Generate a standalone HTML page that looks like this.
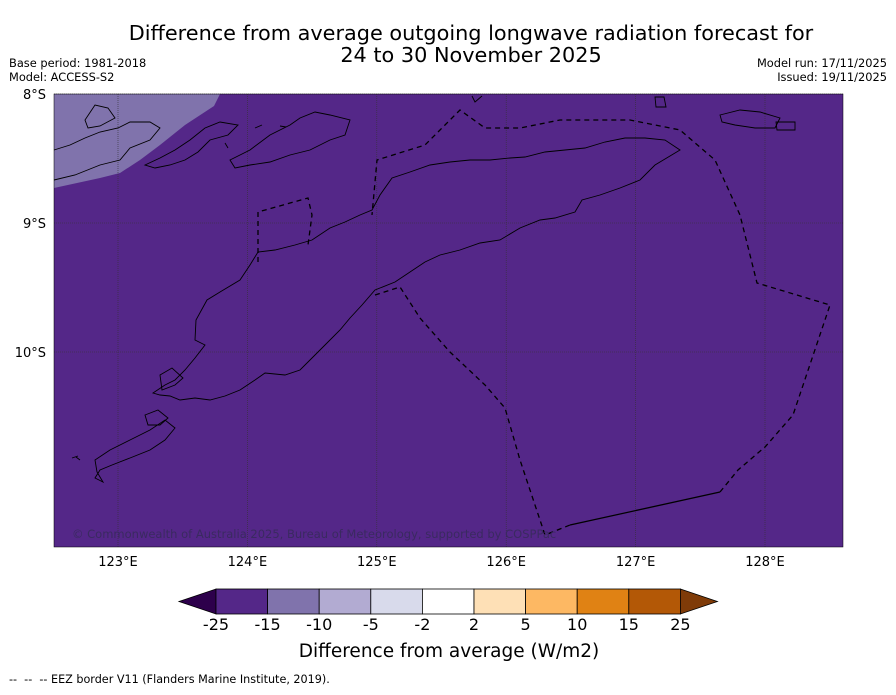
<!DOCTYPE html>
<html><head><meta charset="utf-8"><style>
body{margin:0;background:#fff;font-family:"Liberation Sans","DejaVu Sans",sans-serif;}
svg text{font-family:"DejaVu Sans","Liberation Sans",sans-serif;}
</style></head><body>
<svg width="896" height="690" viewBox="0 0 896 690">
<text x="471" y="40" text-anchor="middle" font-size="20.8">Difference from average outgoing longwave radiation forecast for</text>
<text x="471" y="62" text-anchor="middle" font-size="20.8">24 to 30 November 2025</text>
<text x="9" y="67" font-size="11.4">Base period: 1981-2018</text>
<text x="9" y="81" font-size="11.4">Model: ACCESS-S2</text>
<text x="887" y="67" font-size="11.4" text-anchor="end">Model run: 17/11/2025</text>
<text x="887" y="81" font-size="11.4" text-anchor="end">Issued: 19/11/2025</text>
<g id="map">
<rect x="54" y="94" width="789" height="453" fill="#542788"/>
<path d="M54,94 L220,94 L214,106 L185,125 L160,145 L140,160 L120,173 L100,178 L54,188 Z" fill="#8073ac"/>
<g id="grid"></g>
<g fill="none" stroke="#000" stroke-width="0.9">
<path d="M153,393 L165,385 L175,380 L185,370 L195,358 L205,345 L195,340 L196,320 L207,300 L220,292 L240,280 L250,265 L258,252 L275,250 L295,245 L312,240 L330,228 L345,222 L360,215 L372,210 L380,195 L392,178 L410,172 L430,165 L450,162 L470,160 L490,160 L510,158 L525,157 L545,152 L565,150 L585,148 L605,142 L625,138 L645,138 L665,140 L680,150 L670,156 L655,165 L640,180 L620,188 L600,195 L582,200 L575,212 L555,218 L540,220 L520,228 L500,240 L480,243 L460,250 L440,255 L425,262 L410,272 L395,282 L375,290 L362,305 L350,318 L340,330 L325,345 L310,360 L300,370 L285,375 L265,373 L255,380 L240,390 L225,396 L210,400 L195,398 L180,400 L170,396 L160,395 Z"/>
<path d="M160,375 L172,368 L183,378 L175,385 L162,390 Z"/>
<path d="M95,460 L110,450 L130,440 L150,430 L165,420 L175,428 L165,440 L150,450 L130,458 L112,465 L100,470 L95,478 L103,482 L97,472 Z"/>
<path d="M145,415 L158,410 L168,418 L160,425 L148,425 Z"/>
<path d="M72,458 L78,456 M80,460 L76,457"/>
<path d="M145,165 L160,158 L175,150 L190,140 L205,128 L220,122 L238,125 L228,135 L210,140 L198,152 L185,160 L170,165 L155,168 Z"/>
<path d="M54,150 L70,145 L85,138 L100,132 L118,128 L130,122 L150,122 L160,128 L150,140 L130,148 L120,160 L100,165 L75,175 L54,180"/>
<path d="M85,120 L95,105 L108,108 L115,118 L100,126 L88,128 Z"/>
<path d="M230,160 L250,150 L270,135 L290,125 L300,118 L315,112 L330,115 L350,120 L345,135 L330,140 L310,150 L290,155 L270,162 L250,165 L235,168 Z"/>
<path d="M255,128 L262,125 M280,126 L286,127 M225,143 L228,148"/>
<path d="M720,115 L740,110 L760,112 L780,118 L775,128 L755,128 L735,125 L722,122 Z"/>
<path d="M776,122 L795,122 L795,130 L777,130 Z"/>
<path d="M655,97 L664,97 L666,107 L656,107 Z"/>
<path d="M472,96 L475,102 L482,96"/>
</g>
<g fill="none" stroke="#000" stroke-width="1.3">
<path stroke-dasharray="5,4" d="M375,295 L400,287 L420,318 L450,352 L485,385 L505,408 L520,460 L530,490 L545,535 L570,525"/>
<path d="M570,525 L720,492"/>
<path stroke-dasharray="5,4" d="M720,492 L738,470 L765,447 L793,415 L830,305 L757,283 L740,215 L715,160 L680,130 L630,120 L560,120 L520,128 L485,128 L460,110 L440,130 L425,145 L377,160 L372,215"/>
<path stroke-dasharray="5,4" d="M258,262 L258,212 L308,198 L312,215 L308,245"/>
</g>
<text x="72" y="538" font-size="11.5" fill="#3a2a60">© Commonwealth of Australia 2025, Bureau of Meteorology, supported by COSPPac</text>
<rect x="54" y="94" width="789" height="453" fill="none" stroke="#000" stroke-width="0.5"/>
</g>
<g id="axes"></g>
<g id="cbar"></g>
<text x="449" y="657" text-anchor="middle" font-size="18.5">Difference from average (W/m2)</text>
<text x="9" y="683" font-size="11.2" xml:space="preserve">--  --  -- EEZ border V11 (Flanders Marine Institute, 2019).</text>
</svg>
<script>
const lonTicks = [123,124,125,126,127,128];
const lonLabels = ["123°E","124°E","125°E","126°E","127°E","128°E"];
const latTicks = [8,9,10];
const latLabels = ["8°S","9°S","10°S"];
const levelLabels = ["-25","-15","-10","-5","-2","2","5","10","15","25"];
const levelColors = ["#542788","#8073ac","#b2abd2","#d8daeb","#ffffff","#fee0b6","#fdb863","#e08214","#b35806"];
const NS="http://www.w3.org/2000/svg";
const xLon = l => 118 + (l-123)*129.4;
const yLat = l => 94 + (l-8)*129;
function mk(tag, attrs, parent){const e=document.createElementNS(NS,tag);for(const k in attrs)e.setAttribute(k,attrs[k]);parent.appendChild(e);return e;}
const grid=document.getElementById('grid'), axes=document.getElementById('axes'), cbar=document.getElementById('cbar');
lonTicks.forEach((l,i)=>{
  const x=xLon(l);
  const g=mk('line',{x1:x,x2:x,y1:94,y2:547,stroke:'#333',"stroke-width":0.6,"stroke-dasharray":"1,1"},grid);
  
  
  const t=mk('text',{x:x,y:566,"text-anchor":"middle","font-size":13},axes);
  t.textContent=lonLabels[i];
  
  
});
latTicks.forEach((l,i)=>{
  const y=yLat(l);
  const g=mk('line',{x1:54,x2:843,y1:y,y2:y,stroke:'#333',"stroke-width":0.6,"stroke-dasharray":"1,1"},grid);
  
  
  const t=mk('text',{x:46,y:y+5,"text-anchor":"end","font-size":13},axes);
  t.textContent=latLabels[i];
  
  
});
const cx0=216, cw=51.6, cy=589, ch=25;
const lt=mk('polygon',{points:`179,${cy+ch/2} ${cx0},${cy} ${cx0},${cy+ch}`,fill:'#2d004b',stroke:'#000',"stroke-width":0.8},cbar);


levelColors.forEach((c,i)=>{
  const r=mk('rect',{x:cx0+i*cw,y:cy,width:cw,height:ch,fill:c,stroke:'#000',"stroke-width":0.8},cbar);
  
  
});
const xe=cx0+levelColors.length*cw;
const rt=mk('polygon',{points:`${xe},${cy} ${xe+37},${cy+ch/2} ${xe},${cy+ch}`,fill:'#7f3b08',stroke:'#000',"stroke-width":0.8},cbar);


levelLabels.forEach((s,i)=>{
  const t=mk('text',{x:cx0+i*cw,y:630,"text-anchor":"middle","font-size":16},cbar);
  t.textContent=s;
  
  
});
</script>
</body></html>
